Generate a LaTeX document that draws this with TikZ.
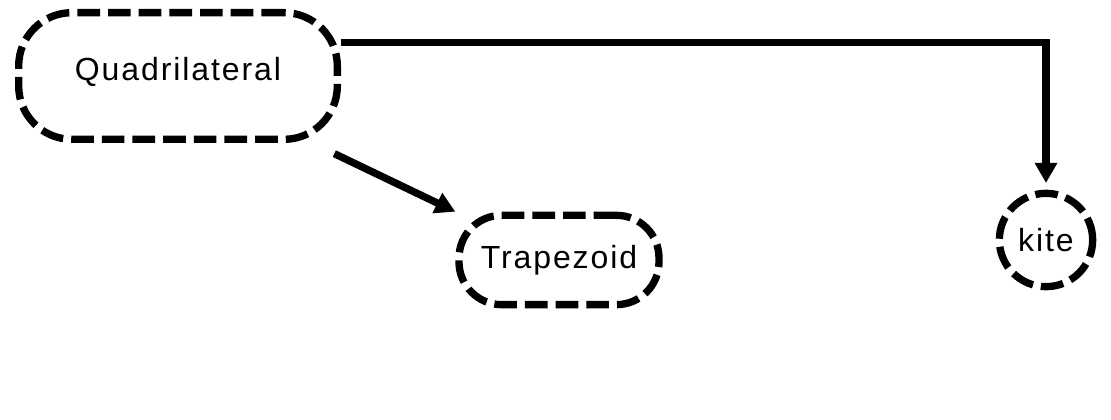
\documentclass[tikz,border=0pt]{standalone}
\usepackage{fontspec}
\setmainfont[LetterSpace=6]{Liberation Sans}
\usetikzlibrary{arrows.meta}

\tikzset{
  dashbox/.style={draw, line width=5.5pt, dash pattern=on 17pt off 6pt, font=\fontsize{24pt}{28pt}\selectfont},
  arr/.style={line width=5.5pt, -{Triangle[length=15pt,width=16pt]}}
}

\begin{document}
\begin{tikzpicture}[x=0.75pt,y=0.75pt,yscale=-1,xscale=1]
\useasboundingbox (0,0) rectangle (1111,420);
%Rounded Rect
\node [dashbox, rounded corners=40pt, minimum width=239pt, minimum height=95pt] (quad) at (178,76) {\raisebox{10pt}{Quadrilateral}};
%Rounded Rect
\node [dashbox, rounded corners=32pt, minimum width=150pt, minimum height=67pt] (trap) at (559,260) {Trapezoid};
%Shape: Circle
\node [dashbox, circle, minimum size=70pt, inner sep=0pt] (kite) at (1046,240) {kite};
%Straight Lines
\draw [arr] ([xshift=-5pt,yshift=8pt]quad.south east) -- (trap.north west);
%Shape: Elbow
\draw [arr, shorten >=5pt] ([yshift=-25pt]quad.east) -| (kite.north);
\end{tikzpicture}
\end{document}
